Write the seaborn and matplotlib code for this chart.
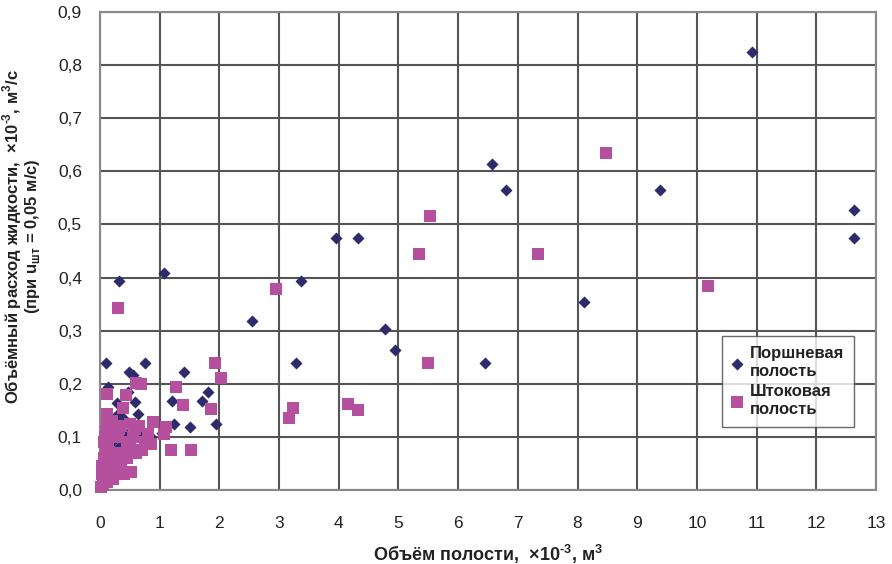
import matplotlib
matplotlib.use("Agg")
import matplotlib.pyplot as plt
import numpy as np
import pandas as pd
import seaborn as sns

# Поршневая полость (diamonds)
piston_x = [10.92, 6.57, 6.80, 9.38, 12.63, 12.63, 3.95, 4.32, 1.07, 0.32, 3.36, 8.11, 2.55,
            4.77, 4.94, 3.29, 6.45,
            0.10, 0.75, 0.48, 0.55, 1.41, 0.14, 1.81, 0.47, 0.28, 0.58, 1.20, 1.71, 0.63, 0.38,
            0.28, 1.24, 1.51, 1.94, 0.50, 0.60, 0.68, 0.76, 0.85, 1.04, 0.31, 0.22, 0.15, 0.05,
            0.10, 0.35, 0.20, 0.40]
piston_y = [0.825, 0.613, 0.564, 0.564, 0.528, 0.475, 0.475, 0.475, 0.408, 0.393, 0.393, 0.354, 0.318,
            0.304, 0.264, 0.239, 0.239,
            0.239, 0.239, 0.222, 0.216, 0.222, 0.194, 0.184, 0.185, 0.163, 0.166, 0.168, 0.168, 0.143, 0.135,
            0.141, 0.124, 0.119, 0.124, 0.103, 0.103, 0.103, 0.103, 0.100, 0.108, 0.081, 0.053, 0.070, 0.030,
            0.050, 0.060, 0.090, 0.110]

# Штоковая полость (squares)
rod_x = [8.48, 5.53, 5.35, 7.34, 10.19, 2.95, 0.30, 5.49, 4.15, 4.33, 3.24, 3.16, 1.92, 2.02,
         1.27, 1.39, 1.86, 1.10, 1.08, 1.19, 1.52, 0.88, 0.86, 0.60, 0.68, 0.12, 0.43, 0.38, 0.11, 0.52,
         0.05, 0.08, 0.03, 0.12, 0.18, 0.10, 0.06, 0.15, 0.25, 0.30, 0.20, 0.10, 0.28, 0.35, 0.40,
         0.45, 0.15, 0.10, 0.20, 0.30, 0.25, 0.35, 0.45, 0.50, 0.55, 0.60, 0.70, 0.75, 0.65, 0.50,
         0.12, 0.20, 0.08, 0.40, 0.22, 0.02, 0.04, 0.06, 0.14, 0.32, 0.58, 0.80]
rod_y = [0.634, 0.515, 0.444, 0.444, 0.384, 0.379, 0.342, 0.239, 0.162, 0.150, 0.154, 0.136, 0.240, 0.211,
         0.194, 0.160, 0.152, 0.119, 0.105, 0.075, 0.075, 0.128, 0.086, 0.202, 0.200, 0.180, 0.178, 0.154, 0.144, 0.034,
         0.010, 0.020, 0.030, 0.015, 0.025, 0.040, 0.060, 0.050, 0.040, 0.030, 0.070, 0.080, 0.065, 0.050, 0.070,
         0.060, 0.100, 0.110, 0.120, 0.100, 0.110, 0.120, 0.090, 0.080, 0.100, 0.070, 0.075, 0.090, 0.120, 0.125,
         0.125, 0.130, 0.100, 0.030, 0.020, 0.005, 0.045, 0.090, 0.085, 0.115, 0.115, 0.105]

labels = ["Поршневая\nполость", "Штоковая\nполость"]
x_ticks = list(range(0, 14))
y_ticks = [0.0, 0.1, 0.2, 0.3, 0.4, 0.5, 0.6, 0.7, 0.8, 0.9]

df = pd.DataFrame({
    "x": piston_x + rod_x,
    "y": piston_y + rod_y,
    "series": [labels[0]] * len(piston_x) + [labels[1]] * len(rod_x),
})

sns.set_style("white")
plt.rcParams["font.family"] = ["Liberation Sans", "DejaVu Sans"]
plt.rcParams["mathtext.fontset"] = "custom"
plt.rcParams["mathtext.rm"] = "Liberation Sans"
plt.rcParams["mathtext.bf"] = "Liberation Sans:bold"

fig = plt.figure(figsize=(8.92, 5.64), dpi=100)
ax = fig.add_axes([100 / 892, 1 - 490 / 564, 776 / 892, 478 / 564])

palette = {labels[0]: "#2e2b6c", labels[1]: "#b4509e"}
markers = {labels[0]: "D", labels[1]: "s"}
sizes = {labels[0]: 38, labels[1]: 70}

for lab in labels:
    sub = df[df["series"] == lab]
    sns.scatterplot(data=sub, x="x", y="y", color=palette[lab], marker=markers[lab],
                    s=sizes[lab], linewidth=0, ax=ax, label=lab, zorder=3, clip_on=False)

ax.set_xlim(0, 13)
ax.set_ylim(0, 0.9)
ax.set_xticks(x_ticks)
ax.set_yticks(y_ticks)
ax.set_xticklabels([str(t) for t in x_ticks], fontsize=12.5)
ax.set_yticklabels([f"{t:.1f}".replace(".", ",") for t in y_ticks], fontsize=12.5)
ax.grid(True, color="#555555", linewidth=1.5)
ax.set_axisbelow(True)
for sp in ax.spines.values():
    sp.set_color("#888888")
    sp.set_linewidth(1.5)
ax.tick_params(axis="both", direction="out", length=7, width=1.2, color="#555555",
               labelcolor="#222222", pad=6)
ax.tick_params(axis="x", pad=12)

ax.set_xlabel("Объём полости,  ×10$^{\\mathregular{‐3}}$, м$^{\\mathregular{3}}$",
              fontsize=13, fontweight="bold", color="#222222", labelpad=8)
ax.set_ylabel("Объёмный расход жидкости,  ×10$^{\\mathregular{‐3}}$, м$^{\\mathregular{3}}$/с\n"
              "(при u$_{\\mathregular{шт}}$ = 0,05 м/с)",
              fontsize=12, fontweight="bold", color="#222222", labelpad=10, linespacing=0.95)
ax.yaxis.set_label_coords(-0.075, 0.53)

leg = ax.legend(loc="upper left", bbox_to_anchor=(722 / 892, 1 - 336 / 564), bbox_transform=fig.transFigure,
                frameon=True, fancybox=False, handlelength=0.6, handletextpad=0.45,
                borderpad=0.6, labelspacing=0.3, edgecolor="#444444", borderaxespad=0,
                prop={"size": 12, "weight": "bold"})
leg.get_frame().set_linewidth(1.0)
for t in leg.get_texts():
    t.set_color("#222222")
    t.set_linespacing(1.25)

fig.savefig("out.png", dpi=100)
